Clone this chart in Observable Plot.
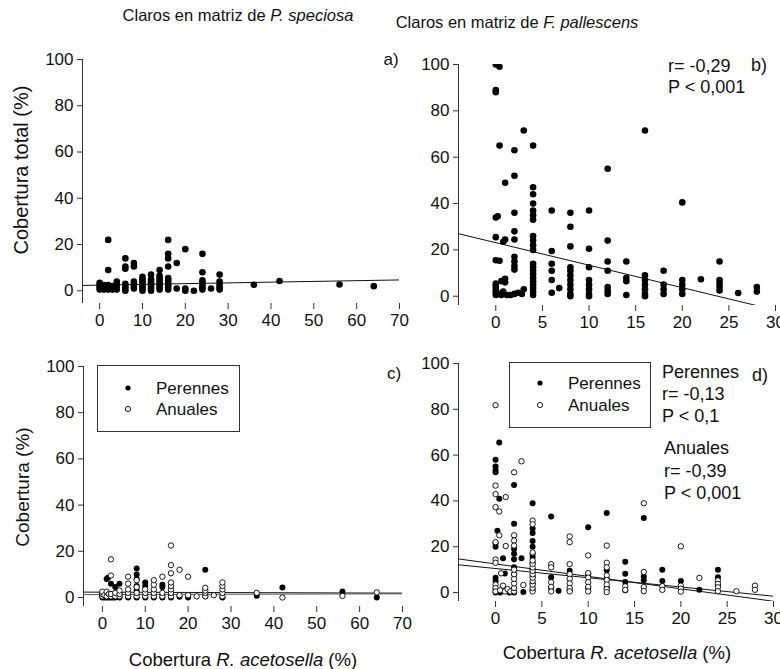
<!DOCTYPE html>
<html><head><meta charset="utf-8">
<script src="https://cdn.jsdelivr.net/npm/d3@7"></script>
<script src="https://cdn.jsdelivr.net/npm/@observablehq/plot@0.6"></script>
<style>
body{margin:0;background:#fff;}
#wrap{position:relative;width:780px;height:669px;overflow:hidden;font-family:"Liberation Sans",Arial,sans-serif;color:#111;background:#fff;}
.t{position:absolute;white-space:nowrap;line-height:1;}
.p{position:absolute;}
.lg{position:absolute;border:1px solid #333;background:#fff;box-sizing:border-box;}
</style></head><body><div id="wrap"></div>
<script>
// ---------- data ----------
const titles = ["Claros en matriz de <i>P. speciosa</i>", "Claros en matriz de <i>F. pallescens</i>"];
const yLabels = ["Cobertura total (%)", "Cobertura (%)"];
const xLabel = "Cobertura <i>R. acetosella</i> (%)";
const seriesNames = ["Perennes", "Anuales"];
const ticksX70 = [0, 10, 20, 30, 40, 50, 60, 70];
const ticksX30 = [0, 5, 10, 15, 20, 25, 30];
const ticksY = [0, 20, 40, 60, 80, 100];

// a) total cover, P. speciosa gaps
const totalA = [
[0,0.5],[0,1.5],[0,2.5],[0,3.5],[0.5,1],[0.5,2.5],[1,0.5],[1,1.5],[1,2.5],[1.5,1],[1.5,2],[2,0.5],[2,1.5],[2,2.5],[2,9],[2,22],[2.5,1.5],[3,0.5],[3,1.5],[3,2],[3.5,1],[4,0.5],[4,1.5],[4,3],[4,4],
[6,0],[6,1],[6,2],[6,3],[6,9.5],[6,10.5],[6,14],
[8,1],[8,2],[8,3],[8,4],[8,10.5],[8,12],
[10,0],[10,1],[10,2],[10,3],[10,4],[10,5],[10,6],
[12,0],[12,1],[12,2],[12,3],[12,4],[12,5],[12,7],
[14,0.5],[14,1.5],[14,2.5],[14,3.5],[14,4.5],[14,5.5],[14,6.5],[14,9],
[16,0.5],[16,1.5],[16,2.5],[16,3.5],[16,4.5],[16,5.5],[16,10.5],[16,14],[16,16],[16,22],
[18,1],[18,12],[20,0],[20,1],[20,18],[22,0],
[24,0.5],[24,1.5],[24,2.5],[24,3.5],[24,4.5],[24,8],[24,16],[26,1],
[28,0.5],[28,1.5],[28,2.5],[28,4],[28,7],
[36,2.6],[42,4.2],[56,2.7],[64,2]
];
const fitA = {intercept: 2.45, slope: 0.032};

// b) total cover, F. pallescens gaps
const totalB = [
[0,100],[0.4,99],[0,89],[0,88],[0.4,65],[1,49],[2,63],[2,52],[3,71.5],[4,65],[4,47],[4,44],[4,40],[4,37],[4,35],[4,33],
[2,36],[2,28],[2,24.5],[0,34],[0.2,34.5],[0,25.5],[0.8,23.5],[1,24.5],[0,15.5],[0.4,15.3],
[2,17],[2,15],[2,13],[2,11.5],[4,26],[4,24],[4,22],[4,20],
[4,14],[4,12.5],[4,11],[4,9.5],[4,8],[4,6.5],[4,5],[4,3.5],[4,2],[4,0.5],
[0,0.5],[0,1.5],[0,2.5],[0,3.5],[0,4.5],[0,5.5],[0.3,1],[0.6,0.5],[0.8,2],[1,6],[1,7.5],[0.6,6.5],[1.2,0.5],[1.6,0.5],[2,1],[2.4,1.5],[2.8,1],[3,3],
[6,37],[6,19.5],[6,14],[6,11],[6,7],[6,1.5],[6.8,3.5],
[8,36],[8,30],[8,21.5],[8,12.5],[8,11],[8,9],[8,7],[8,5],[8,3],[8,1],[8,0],
[10,37],[10,20.5],[10,12.5],[10,7],[10,5],[10,3],[10,1],[10,0],
[12,55],[12,24],[12,15],[12,11],[12,4],[12,2.5],[12,1],
[14,15],[14,8],[14,6.5],[14,0.5],
[16,71.5],[16,9],[16,7],[16,5],[16,3],[16,1],[16,0],
[18,11],[18,5],[18,3],[18,1],
[20,40.5],[20,7],[20,5],[20,3],[20,1],
[22,7.3],[24,15],[24,7],[24,5.5],[24,4],[24,2.5],[26,1.4],[28,4],[28,2]
];
const fitB = {intercept: 23.1, slope: -0.97};

// c) perennials / annuals, P. speciosa gaps
const perennesC = [
[0,0],[0,1],[0,2],[0.5,0],[1,0],[1,8],[1.3,8.5],[1.5,0],[2,0],[2,6],[2.5,0],[3,0],[3,4.5],[4,0],[4,6],[4,1.5],
[6,0],[8,0],[8,3],[8,5],[8,8],[8,10],[8,12.5],[10,0],[10,5],[10,6.5],[12,0],[14,0],[14,4.5],[14,5.5],[16,0],[18,0.3],[20,0],
[24,12],[24,0.5],[28,0],[36,0.7],[42,4.3],[56,2.6],[64,0]
];
const anualesC = [
[0,0.5],[0,1.5],[0,2.5],[0.5,1],[1,0.5],[1,2.5],[1.5,1.5],[2,0.5],[2,1.5],[2,9.5],[2,16.5],[3,0.5],[3,2],[4,0.5],[4,1.5],[4,3],
[6,0.5],[6,2],[6,3.5],[6,6],[6,9],[8,0.5],[8,2],[8,4.5],[8,7.5],[10,0.5],[10,2],[10,3.5],
[12,0.5],[12,2],[12,3.5],[12,5.5],[12,7.5],[14,0.5],[14,2],[14,9],
[16,0.5],[16,2],[16,3.5],[16,5],[16,6.5],[16,10.5],[16,14],[16,22.5],[18,1],[18,12],[20,1],[20,9],[22,0.5],
[24,0.5],[24,2],[24,3],[24,4.2],[26,1],[28,0.5],[28,2],[28,3.5],[28,5],[28,6.5],
[36,2],[42,0],[56,0.7],[64,2.2]
];
const fitsC = [{intercept: 2.3, slope: -0.006}, {intercept: 1.25, slope: 0.005}];

// d) perennials / annuals, F. pallescens gaps
const perennesD = [
[0.4,65.5],[0,58],[0,55],[0,53.5],[0,52.5],[0.4,41],[0.2,27],[0,21.5],[0,20],[0.8,15],[0,6.5],[0,5],[0,1.5],[0,0],[1,8.3],[0.5,0],[1.5,0],
[2,0],[2,47],[2,30],[2,19],[2,17],[2,14.5],[2,11],[2,8],[2.8,15],[3,0.3],
[4,39],[4,28],[4,26],[4,22.5],[4,20],[4,17],[4,15.5],[4,13],[4,10],[4,7],[4,4],[4,1],
[6,33.2],[6,6.7],[6,2],[6.8,0.8],[8,9.5],[8,1],[10,28.5],[10,8],[10,2],
[12,34.7],[12,9.7],[12,6],[12,2],[14,13.5],[14,8.2],[14,4.6],[14,1],
[16,32.6],[16,7],[16,5.4],[18,10],[18,5],[20,5],[22,1.2],[24,10],[24,6.7],[24,3]
];
const anualesD = [
[0,81.8],[0,46.7],[0,43],[0,37.3],[0.4,35.4],[1.1,41.7],[2.8,57.3],[2,52.5],[4,31.4],[4,29.8],[8,24.5],[8,22],[10,16.2],[12,20.5],
[2,25],[2,22.7],[2,20.5],[0.4,25],[0,22],[1.1,20.3],[0,14.4],[0,13],[0.6,8.4],[0,3.5],[0,2],[0,0.5],[0.5,1],[0.8,3],[1,0.5],[1.3,1.5],[1.6,0.5],
[2,0.5],[2,2],[2,4],[2,6],[2,8],[2,10],[3,3.3],
[4,0.5],[4,2],[4,3.5],[4,5],[4,6.5],[4,8],[4,9.5],[4,11],[4,12.5],[4,14],[4,17.5],
[6,12.4],[6,11],[6,4.5],[6,2.5],[6,0.5],[8,12.4],[8,8],[8,6],[8,4],[8,2],[8,0.5],
[10,8.5],[10,6.5],[10,4.5],[10,2.5],[10,0.5],[12,13],[12,11],[12,7.5],[12,5.5],[12,3.5],[12,1.5],[12,0.2],
[14,2.7],[14,1.2],[16,39],[16,9],[16,2.4],[16,0.6],[18,2.8],[18,1.2],[20,20.2],[20,3],[20,1.7],[20,0.4],
[22,6.4],[24,5.3],[24,3.8],[24,2.3],[24,0.6],[26,0.6],[28,3],[28,1.2]
];
const fitsD = [{intercept: 10.5, slope: -0.403}, {intercept: 12.5, slope: -0.543}];

// ---------- drawing ----------
const wrap = document.getElementById("wrap");
const FONT = '"Liberation Sans", Arial, sans-serif';

function fitLine(f, x0, x1) { return [x0, x1].map(x => ({x, y: f.intercept + f.slope * x})); }

function panel(o) {
  const [x0, x1] = o.xdom, [y0, y1] = o.ydom;
  const marks = [
    Plot.ruleX([x0], {y1: y0, y2: y1, stroke: "#333", strokeWidth: 1}),
    Plot.ruleY([y0], {x1: x0, x2: x1, stroke: "#333", strokeWidth: 1}),
    Plot.axisX(o.xticks, {tickSize: 6, tickPadding: 4, label: null, stroke: "#333", fontSize: 17}),
    Plot.axisY(ticksY, {tickSize: 5, tickPadding: 4, label: null, stroke: "#333", fontSize: 17})
  ];
  (o.fits || []).forEach((f, i) => {
    marks.push(Plot.line(fitLine(f, x0, o.fitEnd ?? x1), {x: "x", y: "y", stroke: (o.fitColors || [])[i] || "#111", strokeWidth: 1}));
  });
  if (o.filled) marks.push(Plot.dot(o.filled, {x: d => d[0], y: d => d[1], r: o.rFilled || 3.3, fill: "#000", stroke: "none"}));
  if (o.open) marks.push(Plot.dot(o.open, {x: d => d[0], y: d => d[1], r: 2.7, fill: "#fff", stroke: "#000", strokeWidth: 0.9}));
  const svg = Plot.plot({
    width: o.width, height: o.height,
    marginLeft: o.ml, marginRight: o.mr, marginTop: o.mt, marginBottom: o.mb,
    x: {domain: o.xdom}, y: {domain: o.ydom}, clip: true,
    style: {background: "transparent", fontFamily: FONT, fontSize: "17px", color: "#111", overflow: "visible"},
    marks
  });
  svg.classList.add("p");
  svg.style.left = o.left + "px";
  svg.style.top = o.top + "px";
  wrap.appendChild(svg);
}

panel({left: 0, top: 40, width: 410, height: 300, ml: 82, mr: 11, mt: 19, mb: 37,
  xdom: [-4, 70], ydom: [-5.5, 100], xticks: ticksX70, filled: totalA, fits: [fitA]});
panel({left: 390, top: 40, width: 390, height: 300, ml: 68, mr: 5, mt: 24, mb: 35,
  xdom: [-4, 30], ydom: [-4, 100], xticks: ticksX30, filled: totalB, fits: [fitB], fitEnd: 27.9});
panel({left: 0, top: 340, width: 410, height: 300, ml: 83, mr: 8, mt: 26, mb: 34,
  xdom: [-4.4, 70], ydom: [-3.9, 100], xticks: ticksX70, filled: perennesC, open: anualesC, fits: fitsC, fitColors: ["#111", "#555"], rFilled: 3});
panel({left: 390, top: 340, width: 390, height: 300, ml: 68, mr: 7, mt: 23, mb: 39,
  xdom: [-4, 30], ydom: [-3.9, 100], xticks: ticksX30, filled: perennesD, open: anualesD, fits: fitsD, fitEnd: 30, rFilled: 3});

function text(html, x, y, size, opts = {}) {
  const d = document.createElement("div");
  d.className = "t";
  d.innerHTML = html;
  d.style.fontSize = size + "px";
  d.style.left = x + "px";
  d.style.top = y + "px";
  const ax = opts.anchor === "start" ? "0" : "-50%";
  d.style.transform = `translate(${ax},-50%)` + (opts.rotate ? ` rotate(${opts.rotate}deg)` : "");
  if (opts.rotate) { d.style.transform = `translate(-50%,-50%) rotate(${opts.rotate}deg)`; }
  wrap.appendChild(d);
  return d;
}

text(titles[0], 238, 15, 16.5);
text(titles[1], 517, 22, 16.5);
text(yLabels[0], 21, 170, 20, {rotate: -90});
text(yLabels[1], 22, 487, 19, {rotate: -90});
text(xLabel, 243, 660, 18.5);
text(xLabel, 617, 653, 18.5);
text("a)", 391, 59, 17);
text("b)", 759, 65, 18);
text("c)", 394, 373, 17);
text("d)", 760, 375, 18);
text("r= -0,29", 668, 66, 18, {anchor: "start"});
text("P &lt; 0,001", 668, 87, 18, {anchor: "start"});
text(seriesNames[0], 662, 372, 18, {anchor: "start"});
text("r= -0,13", 662, 394, 18, {anchor: "start"});
text("P &lt; 0,1", 662, 416, 18, {anchor: "start"});
text(seriesNames[1], 664, 448, 18, {anchor: "start"});
text("r= -0,39", 664, 471, 18, {anchor: "start"});
text("P &lt; 0,001", 664, 493, 18, {anchor: "start"});

function legend(left, top, w, h, mx, tx, rows) {
  const box = document.createElement("div");
  box.className = "lg";
  Object.assign(box.style, {left: left + "px", top: top + "px", width: w + "px", height: h + "px"});
  wrap.appendChild(box);
  const ns = "http://www.w3.org/2000/svg";
  const svg = document.createElementNS(ns, "svg");
  svg.setAttribute("width", 780); svg.setAttribute("height", 669);
  svg.style.position = "absolute"; svg.style.left = "0"; svg.style.top = "0"; svg.style.pointerEvents = "none";
  rows.forEach((ry, i) => {
    const c = document.createElementNS(ns, "circle");
    c.setAttribute("cx", mx); c.setAttribute("cy", ry); c.setAttribute("r", 2.6);
    c.setAttribute("fill", i === 0 ? "#000" : "#fff");
    c.setAttribute("stroke", "#000"); c.setAttribute("stroke-width", i === 0 ? 0 : 0.9);
    svg.appendChild(c);
    text(seriesNames[i], tx, ry, 17, {anchor: "start"});
  });
  wrap.appendChild(svg);
}
legend(97, 365, 143, 67, 128, 156, [388, 409]);
legend(509, 362, 142, 66, 540, 568, [383, 405]);
</script></body></html>
